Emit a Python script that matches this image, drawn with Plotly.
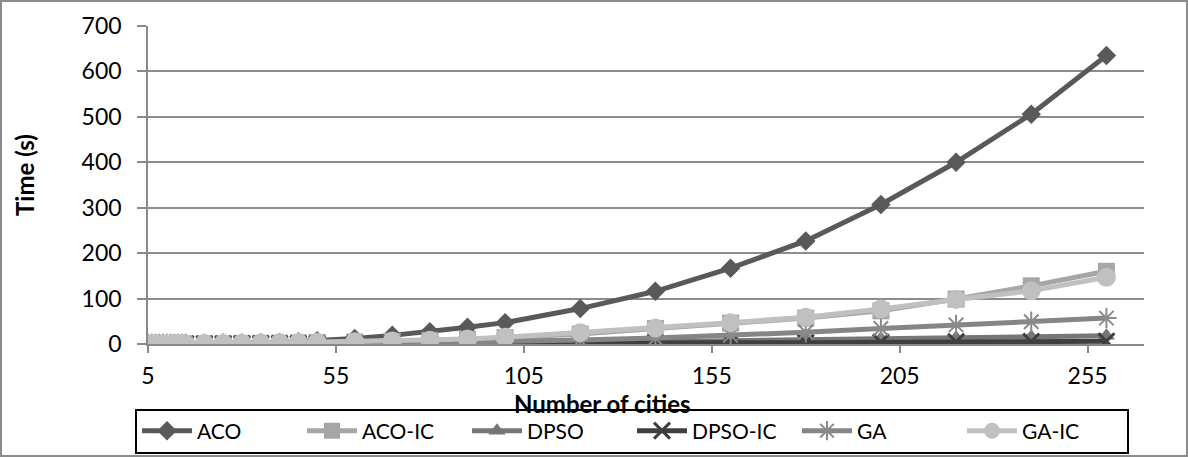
import plotly.graph_objects as go

cities = [5, 6, 7, 8, 9, 10, 11, 12, 13, 14, 15, 20, 25, 30, 35, 40, 45, 50,
          60, 70, 80, 90, 100, 120, 140, 160, 180, 200, 220, 240, 260]

aco = [0.1, 0.1, 0.1, 0.2, 0.2, 0.2, 0.3, 0.3, 0.4, 0.4, 0.5, 0.8, 1.2, 1.8, 2.6, 3.5, 5, 7,
       12, 19, 27, 37, 47, 78, 116, 167, 227, 307, 400, 506, 635]
aco_ic = [0.1, 0.1, 0.1, 0.1, 0.1, 0.2, 0.2, 0.2, 0.2, 0.3, 0.3, 0.5, 0.8, 1.1, 1.5, 2, 2.6, 3.3,
          4.5, 6, 8, 10, 14, 22, 34, 46, 57, 73, 99, 128, 160]
dpso = [0.0, 0.0, 0.0, 0.0, 0.1, 0.1, 0.1, 0.1, 0.1, 0.1, 0.1, 0.2, 0.2, 0.3, 0.4, 0.5, 0.6, 0.8,
        1.0, 1.2, 1.5, 1.8, 2, 3, 5, 7, 9, 12, 14, 16, 18]
dpso_ic = [0.0, 0.0, 0.0, 0.0, 0.0, 0.0, 0.1, 0.1, 0.1, 0.1, 0.1, 0.1, 0.1, 0.2, 0.2, 0.3, 0.3, 0.4,
           0.5, 0.6, 0.7, 0.9, 1, 1.5, 2, 2.5, 3, 4, 5, 5.5, 6]
ga = [0.0, 0.0, 0.1, 0.1, 0.1, 0.1, 0.1, 0.1, 0.1, 0.2, 0.2, 0.3, 0.4, 0.5, 0.6, 0.7, 0.8, 1,
      1.5, 2, 3, 4, 6, 9, 13, 19, 26, 34, 42, 49, 57]
ga_ic = [0.1, 0.1, 0.1, 0.1, 0.2, 0.2, 0.2, 0.3, 0.3, 0.3, 0.4, 1, 1.3, 1.7, 2.1, 2.6, 3.2, 3.9,
         5, 6.5, 8.5, 11, 15, 25, 35, 47, 59, 77, 98, 117, 147]

series = [
    ("ACO", aco, "#595959", dict(symbol="diamond", size=15)),
    ("ACO-IC", aco_ic, "#a6a6a6", dict(symbol="square", size=17)),
    ("DPSO", dpso, "#767676", dict(symbol="triangle-up", size=15)),
    ("DPSO-IC", dpso_ic, "#3f3f3f", dict(symbol="x-thin", size=16, line=dict(width=3, color="#3f3f3f"))),
    ("GA", ga, "#858585", dict(symbol="asterisk", size=17, line=dict(width=2, color="#8a8a8a"))),
    ("GA-IC", ga_ic, "#c0c0c0", dict(symbol="circle", size=19)),
]

FONT = "Lato"
FS = 23

fig = go.Figure()
for name, vals, color, mk in series:
    marker = dict(color=color)
    marker.update(mk)
    fig.add_trace(go.Scatter(
        x=cities, y=vals, name=name, mode="lines+markers",
        line=dict(color=color, width=5),
        marker=marker,
    ))

L, R, T, B = 148, 44, 26, 113
W, H = 1188, 457
pw, ph = W - L - R, H - T - B


def px(x):
    return (x - L) / pw


def py(y):
    return (H - B - y) / ph


fig.update_layout(
    width=W, height=H, autosize=False,
    margin=dict(l=L, r=R, t=T, b=B, autoexpand=False),
    paper_bgcolor="white", plot_bgcolor="white",
    font=dict(family=FONT, size=FS, color="#000000"),
    showlegend=True,
    legend=dict(
        orientation="h", xanchor="center", yanchor="middle",
        x=px(632), y=py(431),
        bordercolor="#000000", borderwidth=2,
        font=dict(family=FONT, size=21, color="#000000"),
        itemwidth=50, tracegroupgap=0,
        entrywidth=100, entrywidthmode="pixels",
    ),
    xaxis=dict(
        range=[5, 270], tick0=5, dtick=50, showgrid=False, zeroline=False,
        showline=True, linecolor="#898989", linewidth=1.5,
        ticks="outside", ticklen=7, tickcolor="#898989", tickwidth=1.5,
        ticklabelstandoff=4,
        tickfont=dict(family=FONT, size=FS, color="#000000"),
    ),
    yaxis=dict(
        range=[0, 700], dtick=100, showgrid=True, gridcolor="#8c8c8c", gridwidth=1.5,
        zeroline=False, showline=True, linecolor="#898989", linewidth=1.5,
        ticks="outside", ticklen=9, tickcolor="#898989", tickwidth=1.5,
        ticklabelstandoff=11,
        tickfont=dict(family=FONT, size=FS, color="#000000"),
    ),
    annotations=[
        dict(text="<b>Number of cities</b>", xref="paper", yref="paper",
             x=px(602), y=py(403), xanchor="center", yanchor="middle",
             showarrow=False, font=dict(family=FONT, size=24, color="#000000")),
        dict(text="<b>Time (s)</b>", xref="paper", yref="paper",
             x=px(24), y=py(175), xanchor="center", yanchor="middle", textangle=-90,
             showarrow=False, font=dict(family=FONT, size=24, color="#000000")),
    ],
    shapes=[
        dict(type="rect", xref="paper", yref="paper",
             x0=px(1), x1=px(W - 1), y0=py(H - 1), y1=py(1),
             line=dict(color="#8c8c8c", width=2), fillcolor="rgba(0,0,0,0)", layer="below"),
    ],
)

fig.write_html("out.html", config={"displayModeBar": False},
               post_script="document.body.style.margin='0px';")
